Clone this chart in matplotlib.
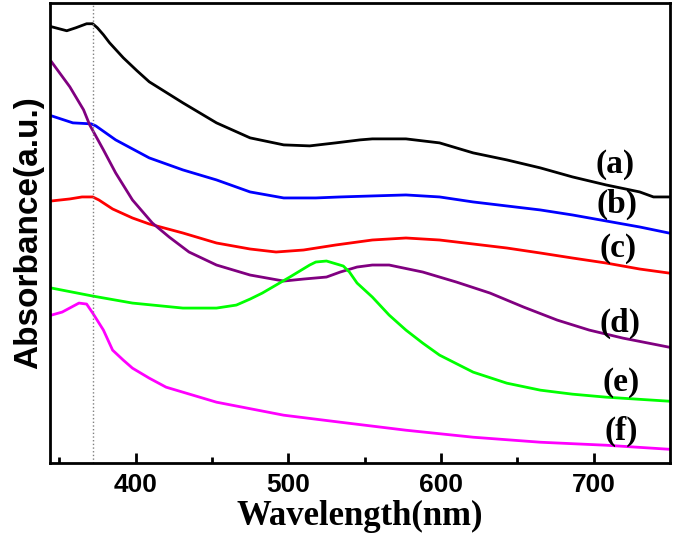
import matplotlib.pyplot as plt

# wavelengths (nm) and absorbance (a.u., offset curves)
wl_a = [345, 355, 361, 368, 372, 375, 379, 383, 392, 401, 409, 431, 453, 475, 497, 514, 531,
        547, 555, 577, 599, 621, 643, 665, 686, 708, 730, 739, 749]
abs_a = [4.36, 4.32, 4.35, 4.39, 4.39, 4.35, 4.28, 4.20, 4.05, 3.92, 3.81, 3.60, 3.40, 3.25,
         3.18, 3.17, 3.20, 3.23, 3.24, 3.24, 3.20, 3.10, 3.03, 2.95, 2.86, 2.78, 2.71, 2.66,
         2.66]

wl_b = [345, 359, 371, 374, 387, 409, 431, 453, 475, 497, 518, 534, 555, 577, 599, 621,
        643, 665, 686, 708, 730, 749]
abs_b = [3.47, 3.40, 3.39, 3.37, 3.23, 3.05, 2.93, 2.83, 2.71, 2.65, 2.65, 2.66, 2.67, 2.68,
         2.66, 2.61, 2.57, 2.53, 2.48, 2.42, 2.36, 2.30]

wl_c = [345, 357, 365, 372, 376, 385, 398, 409, 431, 453, 475, 492, 510, 531, 555, 577,
        599, 621, 643, 665, 686, 708, 730, 749]
abs_c = [2.62, 2.64, 2.66, 2.66, 2.63, 2.54, 2.45, 2.39, 2.30, 2.20, 2.14, 2.11, 2.13, 2.18,
         2.23, 2.25, 2.23, 2.19, 2.15, 2.10, 2.05, 2.00, 1.94, 1.90]

wl_d = [345, 357, 366, 370, 379, 387, 398, 411, 422, 435, 453, 475, 497, 510, 525, 534,
        545, 555, 566, 588, 610, 632, 654, 676, 697, 719, 749]
abs_d = [4.01, 3.76, 3.53, 3.38, 3.13, 2.90, 2.63, 2.40, 2.26, 2.11, 1.98, 1.88, 1.82, 1.84,
         1.86, 1.91, 1.96, 1.98, 1.98, 1.91, 1.81, 1.70, 1.56, 1.43, 1.33, 1.25, 1.16]

wl_e = [345, 372, 398, 431, 453, 466, 475, 483, 492, 501, 514, 518, 525, 536, 540, 545,
        555, 566, 577, 588, 599, 621, 643, 665, 686, 708, 749]
abs_e = [1.75, 1.67, 1.60, 1.55, 1.55, 1.58, 1.64, 1.70, 1.78, 1.86, 1.98, 2.01, 2.02, 1.97,
         1.91, 1.80, 1.66, 1.48, 1.33, 1.20, 1.08, 0.91, 0.80, 0.73, 0.69, 0.66, 0.62]

wl_f = [345, 352, 363, 368, 372, 379, 385, 392, 398, 409, 420, 453, 497, 534, 577, 621,
        665, 708, 749]
abs_f = [1.48, 1.51, 1.60, 1.59, 1.50, 1.33, 1.13, 1.03, 0.95, 0.85, 0.76, 0.61, 0.48, 0.41,
         0.33, 0.26, 0.21, 0.18, 0.14]

labels = ['(a)', '(b)', '(c)', '(d)', '(e)', '(f)']
label_x = [714, 715, 716, 717, 718, 718]
label_y = [2.98, 2.59, 2.15, 1.40, 0.81, 0.32]
colors = ['black', '#0000ff', '#ff0000', '#800080', '#00ff00', '#ff00ff']
peak_line = 372

fig = plt.figure(figsize=(6.75, 5.45), dpi=100)
ax = fig.add_axes([0.074, 0.150, 0.919, 0.845])

series = [(wl_a, abs_a), (wl_b, abs_b), (wl_c, abs_c),
          (wl_d, abs_d), (wl_e, abs_e), (wl_f, abs_f)]
for (wl, ab), c in zip(series, colors):
    ax.plot(wl, ab, color=c, lw=2, solid_joinstyle='round')

ax.axvline(peak_line, color='gray', ls=':', lw=1)

for txt, x, y in zip(labels, label_x, label_y):
    ax.text(x, y, txt, ha='center', va='center', fontsize=24,
            fontweight='bold', family='Liberation Serif')

ax.set_xlim(344, 750)
ax.set_ylim(0, 4.6)
ax.set_xticks([400, 500, 600, 700])
ax.set_xticks([350, 450, 550, 650], minor=True)
ax.set_yticks([])
ax.tick_params(axis='x', which='major', direction='in', length=7, width=2, labelsize=19, pad=7)
ax.tick_params(axis='x', which='minor', direction='in', length=4, width=2)
for lab in ax.get_xticklabels():
    lab.set_fontweight('bold')
    lab.set_family('Liberation Sans')
for s in ax.spines.values():
    s.set_linewidth(2)

ax.set_xlabel('Wavelength(nm)', fontsize=25, fontweight='bold', family='Liberation Serif', labelpad=2)
ax.set_ylabel('Absorbance(a.u.)', fontsize=24, fontweight='bold', family='Liberation Sans', labelpad=4)

fig.savefig('out.png', dpi=100)
